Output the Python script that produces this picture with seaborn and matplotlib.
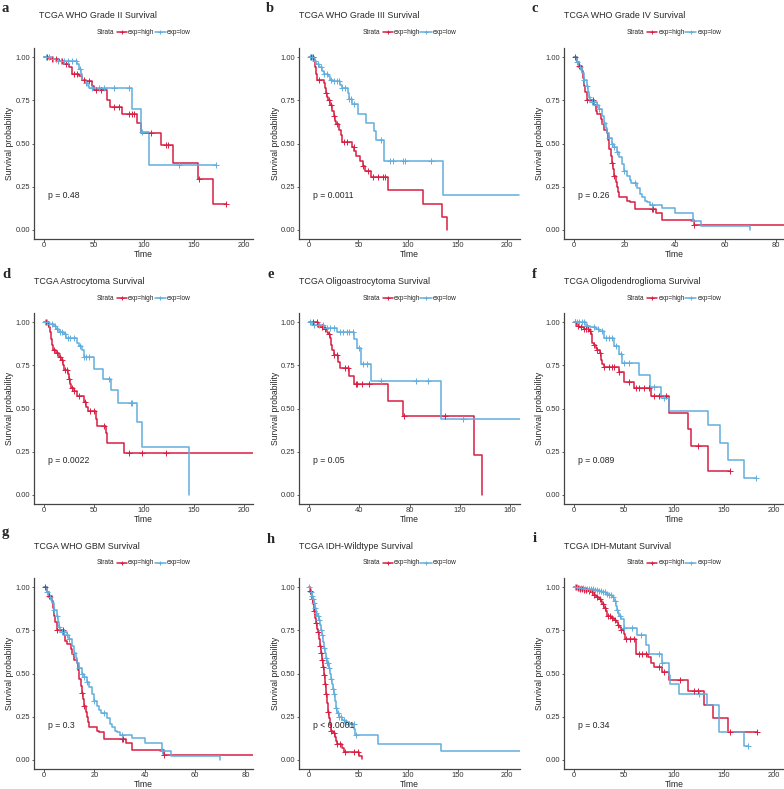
import numpy as np
import pandas as pd
import matplotlib
matplotlib.use("Agg")
import matplotlib.pyplot as plt
from matplotlib.lines import Line2D
import seaborn as sns

sns.set_theme(style="ticks")
plt.rcParams["font.family"] = ["Liberation Sans", "DejaVu Sans"]

RED = "#D81E43"
BLUE = "#62AEDD"

# ---------------- data ----------------
titles = ["TCGA WHO Grade II Survival", "TCGA WHO Grade III Survival", "TCGA WHO Grade IV Survival",
          "TCGA Astrocytoma Survival", "TCGA Oligoastrocytoma Survival", "TCGA Oligodendroglioma Survival",
          "TCGA WHO GBM Survival", "TCGA IDH-Wildtype Survival", "TCGA IDH-Mutant Survival"]
letters = ["a", "b", "c", "d", "e", "f", "g", "h", "i"]
pvals = ["p = 0.48", "p = 0.0011", "p = 0.26", "p = 0.0022", "p = 0.05", "p = 0.089",
         "p = 0.3", "p < 0.0001", "p = 0.34"]
legend_labels = ["exp=high", "exp=low"]

# a: Grade II
a_high_t = [0, 5, 15, 20, 25, 28, 35, 38, 42, 48, 50, 63, 66, 78, 93, 97, 117, 129, 154, 169, 182]
a_high_s = [1.0, 0.99, 0.98, 0.96, 0.94, 0.90, 0.89, 0.87, 0.86, 0.83, 0.81, 0.75, 0.71, 0.67, 0.62, 0.56, 0.49, 0.39, 0.295, 0.148, 0.148]
a_low_t = [0, 8, 12, 33, 35, 37, 38, 41, 44, 45, 88, 97, 105, 172]
a_low_s = [1.0, 0.99, 0.98, 0.96, 0.93, 0.90, 0.87, 0.85, 0.83, 0.82, 0.70, 0.565, 0.375, 0.375]
a_high_c = [3, 8, 12, 18, 22, 30, 33, 40, 45, 52, 57, 70, 75, 85, 88, 90, 107, 122, 124, 155, 182]
a_low_c = [2, 5, 9, 14, 17, 20, 24, 28, 32, 36, 42, 48, 55, 60, 70, 85, 98, 135, 172]

# b: Grade III
b_high_t = [0, 5, 6, 7, 8, 15, 16, 17, 18, 19, 21, 23, 25, 26, 27, 30, 32, 33, 43, 46, 48, 52, 55, 57, 63, 80, 115, 134, 139]
b_high_s = [1.0, 0.98, 0.94, 0.90, 0.87, 0.85, 0.82, 0.79, 0.77, 0.75, 0.72, 0.69, 0.66, 0.63, 0.61, 0.58, 0.55, 0.51, 0.48, 0.455, 0.43, 0.40, 0.37, 0.34, 0.305, 0.23, 0.15, 0.075, 0.0]
b_low_t = [0, 5, 7, 10, 13, 15, 19, 21, 24, 31, 33, 39, 40, 43, 50, 58, 66, 68, 76, 135, 212]
b_low_s = [1.0, 0.98, 0.96, 0.94, 0.92, 0.90, 0.89, 0.87, 0.86, 0.84, 0.82, 0.79, 0.76, 0.73, 0.67, 0.62, 0.57, 0.52, 0.40, 0.20, 0.20]
b_high_c = [2, 4, 10, 17, 20, 22, 25, 28, 35, 38, 45, 55, 60, 65, 70, 75, 77]
b_low_c = [1, 3, 6, 9, 12, 15, 18, 22, 25, 28, 30, 33, 36, 40, 42, 45, 73, 82, 85, 95, 97, 123]

# c: Grade IV
c_high_t = [0, 1, 2, 3, 3.5, 4, 4.5, 5, 8, 8.5, 9, 10.5, 11, 12, 13, 13.5, 14, 14.5, 15, 15.5, 16, 16.5, 17, 17.5, 18, 21, 22, 24, 32.5, 35, 47.5, 85]
c_high_s = [1.0, 0.97, 0.95, 0.92, 0.88, 0.83, 0.80, 0.75, 0.72, 0.69, 0.67, 0.64, 0.61, 0.58, 0.56, 0.52, 0.47, 0.43, 0.39, 0.35, 0.31, 0.28, 0.25, 0.22, 0.19, 0.17, 0.16, 0.12, 0.10, 0.06, 0.03, 0.03]
c_low_t = [0, 1, 2, 3, 4, 5, 5.5, 6, 6.5, 9, 10, 11, 12, 12.5, 13, 14, 15, 16, 17, 18, 19, 20, 21, 22, 22.5, 25, 26, 27, 28, 29, 30, 35, 40, 47, 50.5, 70]
c_low_s = [1.0, 0.97, 0.94, 0.91, 0.87, 0.83, 0.80, 0.77, 0.74, 0.72, 0.70, 0.66, 0.62, 0.59, 0.56, 0.53, 0.50, 0.48, 0.45, 0.42, 0.38, 0.34, 0.31, 0.29, 0.27, 0.24, 0.21, 0.19, 0.17, 0.16, 0.145, 0.125, 0.10, 0.05, 0.025, 0.0]
c_high_c = [0.5, 2, 5, 7.5, 15, 16, 31, 31.5, 47.5]
c_low_c = [1, 2.5, 4, 5, 6, 7, 8, 9, 10, 12, 14, 15, 16, 17, 20, 24, 31, 47]

# d: Astrocytoma
d_high_t = [0, 3, 5, 6, 7, 8, 9, 12, 15, 17, 19, 20, 24, 25, 26, 27, 30, 33, 40, 42, 44, 52, 53, 62, 63, 80, 212]
d_high_s = [1.0, 0.99, 0.97, 0.94, 0.90, 0.87, 0.84, 0.82, 0.80, 0.78, 0.75, 0.72, 0.70, 0.67, 0.64, 0.62, 0.60, 0.575, 0.54, 0.51, 0.485, 0.44, 0.40, 0.36, 0.30, 0.24, 0.24]
d_low_t = [0, 5, 10, 12, 15, 20, 22, 33, 35, 38, 40, 50, 59, 66.5, 73.5, 93, 98, 145]
d_low_s = [1.0, 0.99, 0.98, 0.96, 0.94, 0.93, 0.91, 0.88, 0.86, 0.84, 0.80, 0.73, 0.67, 0.605, 0.53, 0.42, 0.28, 0.0]
d_high_c = [2, 4, 10, 13, 16, 18, 21, 23, 25, 28, 30, 35, 41, 46, 50, 60, 85, 98, 122]
d_low_c = [1, 3, 5, 8, 11, 13, 16, 18, 21, 24, 26, 30, 36, 40, 42, 45, 65, 87, 88]

# e: Oligoastrocytoma
e_high_t = [0, 7, 12, 14, 15, 17, 17.5, 18, 20, 23, 25, 32, 36, 63, 75, 131, 138]
e_high_s = [1.0, 0.97, 0.96, 0.94, 0.93, 0.91, 0.87, 0.84, 0.81, 0.77, 0.735, 0.69, 0.64, 0.545, 0.455, 0.23, 0.0]
e_low_t = [0, 2, 12, 22, 36, 38, 41, 49, 105, 170]
e_low_s = [1.0, 0.985, 0.965, 0.94, 0.90, 0.85, 0.755, 0.66, 0.44, 0.44]
e_high_c = [3, 6, 10, 13, 16, 20, 22, 29, 31, 37, 38, 42, 48, 76, 108]
e_low_c = [1, 4, 8, 11, 14, 17, 20, 25, 27, 30, 32, 35, 40, 43, 46, 57, 85, 95, 123]

# f: Oligodendroglioma
f_high_t = [0, 2, 3, 5, 10, 15, 17, 18, 20, 22, 23, 26, 27, 28, 30, 45, 50, 60, 77, 95, 114, 117, 133.5, 156]
f_high_s = [1.0, 0.99, 0.98, 0.97, 0.96, 0.95, 0.93, 0.88, 0.87, 0.85, 0.84, 0.82, 0.78, 0.76, 0.74, 0.71, 0.655, 0.62, 0.57, 0.475, 0.38, 0.285, 0.14, 0.14]
f_low_t = [0, 12, 16, 22, 25, 30, 40, 45, 48, 65, 76, 87, 95, 134, 146, 154, 170, 182]
f_low_s = [1.0, 0.98, 0.97, 0.96, 0.95, 0.91, 0.86, 0.815, 0.765, 0.695, 0.625, 0.56, 0.485, 0.405, 0.30, 0.20, 0.10, 0.10]
f_high_c = [1, 4, 7, 10, 12, 14, 16, 20, 23, 26, 30, 35, 38, 40, 45, 55, 62, 65, 70, 75, 80, 85, 92, 124, 156]
f_low_c = [1, 3, 5, 8, 10, 13, 20, 24, 28, 32, 35, 38, 42, 47, 50, 55, 80, 90, 182]

# g: GBM
g_high_t = [0, 1, 2, 3, 3.5, 4, 4.5, 5, 8, 8.5, 9, 10.5, 11, 12, 13, 13.5, 14, 14.5, 15, 15.5, 16, 16.5, 17, 17.5, 18, 21, 22, 24, 32.5, 35, 47.5, 85]
g_high_s = [1.0, 0.97, 0.95, 0.92, 0.88, 0.83, 0.80, 0.75, 0.72, 0.69, 0.67, 0.64, 0.61, 0.58, 0.56, 0.52, 0.47, 0.43, 0.39, 0.35, 0.31, 0.28, 0.25, 0.22, 0.19, 0.17, 0.16, 0.12, 0.10, 0.06, 0.03, 0.03]
g_low_t = [0, 1, 2, 3, 4, 5, 5.5, 6, 6.5, 9, 10, 11, 12, 12.5, 13, 14, 15, 16, 17, 18, 19, 20, 21, 22, 22.5, 25, 26, 27, 28, 29, 30, 35, 40, 47, 50.5, 70]
g_low_s = [1.0, 0.97, 0.94, 0.91, 0.87, 0.83, 0.80, 0.77, 0.74, 0.72, 0.70, 0.66, 0.62, 0.59, 0.56, 0.53, 0.50, 0.48, 0.45, 0.42, 0.38, 0.34, 0.31, 0.29, 0.27, 0.24, 0.21, 0.19, 0.17, 0.16, 0.145, 0.125, 0.10, 0.05, 0.025, 0.0]
g_high_c = [0.5, 2, 5, 7.5, 15, 16, 31, 31.5, 47.5]
g_low_c = [1, 2.5, 4, 5, 6, 7, 8, 9, 10, 12, 14, 15, 16, 17, 20, 24, 31, 47]

# h: IDH-wildtype
h_high_t = [0, 1, 2, 3, 4, 5, 6, 7, 8, 9, 10, 11, 12, 13, 14, 15, 16, 17, 18, 19, 20, 21, 22, 24, 26, 27, 28, 33, 35, 51, 54]
h_high_s = [1.0, 0.98, 0.96, 0.93, 0.90, 0.86, 0.82, 0.79, 0.76, 0.74, 0.70, 0.66, 0.62, 0.58, 0.54, 0.49, 0.44, 0.38, 0.33, 0.28, 0.24, 0.20, 0.17, 0.155, 0.13, 0.11, 0.09, 0.07, 0.045, 0.02, 0.005]
h_low_t = [0, 1, 2, 3, 4, 5, 6, 7, 8, 10, 11, 12, 13, 14, 15, 16, 17, 18, 20, 21, 22, 23, 24, 25, 26, 27, 28, 30, 33, 36, 40, 46, 47, 70, 133, 214]
h_low_s = [1.0, 0.99, 0.97, 0.95, 0.93, 0.91, 0.88, 0.85, 0.83, 0.81, 0.78, 0.75, 0.72, 0.68, 0.65, 0.62, 0.59, 0.56, 0.53, 0.50, 0.47, 0.44, 0.41, 0.38, 0.34, 0.30, 0.27, 0.25, 0.23, 0.22, 0.21, 0.18, 0.145, 0.095, 0.05, 0.05]
h_high_c = [1, 3, 5, 7, 9, 11, 12, 13, 14, 15, 16, 17, 19, 22, 25, 28, 31, 36, 45, 50]
h_low_c = [0.5, 2, 3, 4, 5, 6, 7, 9, 10, 12, 13, 15, 17, 18, 19, 20, 22, 24, 25, 27, 29, 30, 32, 35, 37, 40, 45, 48]

# i: IDH-mutant
i_high_t = [0, 3, 6, 10, 15, 18, 20, 22, 25, 27, 28, 30, 32, 33, 37, 40, 42, 44, 45, 47, 50, 51, 62, 74, 77, 80, 88, 95, 114, 130, 139, 154, 183]
i_high_s = [1.0, 0.995, 0.99, 0.985, 0.98, 0.97, 0.955, 0.94, 0.93, 0.92, 0.90, 0.88, 0.86, 0.835, 0.82, 0.81, 0.80, 0.78, 0.77, 0.75, 0.73, 0.70, 0.615, 0.595, 0.56, 0.535, 0.51, 0.46, 0.40, 0.32, 0.24, 0.16, 0.16]
i_low_t = [0, 5, 10, 20, 25, 28, 32, 35, 38, 40, 42, 43, 44, 45, 47, 50, 63, 72, 75, 88, 95, 96, 105, 133, 145, 170, 174]
i_low_s = [1.0, 0.995, 0.99, 0.985, 0.98, 0.97, 0.96, 0.955, 0.94, 0.92, 0.89, 0.87, 0.85, 0.83, 0.815, 0.765, 0.725, 0.665, 0.61, 0.56, 0.49, 0.44, 0.38, 0.32, 0.16, 0.08, 0.08]
i_high_c = [2, 4, 6, 8, 10, 12, 15, 18, 20, 23, 26, 29, 31, 34, 36, 38, 41, 44, 47, 52, 56, 60, 65, 68, 72, 85, 90, 106, 120, 124, 156, 183]
i_low_c = [1, 3, 5, 7, 9, 11, 13, 15, 17, 19, 21, 23, 25, 27, 29, 31, 33, 35, 37, 39, 41, 43, 46, 50, 58, 67, 85, 88, 125, 174]

xlims = [(-10, 209), (-10, 213), (-4, 83.3), (-10, 209), (-8, 168), (-10, 210),
         (-4, 83), (-10, 213), (-10, 210)]
xticks = [[0, 50, 100, 150, 200], [0, 50, 100, 150, 200], [0, 20, 40, 60, 80],
          [0, 50, 100, 150, 200], [0, 40, 80, 120, 160], [0, 50, 100, 150, 200],
          [0, 20, 40, 60, 80], [0, 50, 100, 150, 200], [0, 50, 100, 150, 200]]
yticks = [0.00, 0.25, 0.50, 0.75, 1.00]

curves = [
    (a_high_t, a_high_s, a_high_c, a_low_t, a_low_s, a_low_c),
    (b_high_t, b_high_s, b_high_c, b_low_t, b_low_s, b_low_c),
    (c_high_t, c_high_s, c_high_c, c_low_t, c_low_s, c_low_c),
    (d_high_t, d_high_s, d_high_c, d_low_t, d_low_s, d_low_c),
    (e_high_t, e_high_s, e_high_c, e_low_t, e_low_s, e_low_c),
    (f_high_t, f_high_s, f_high_c, f_low_t, f_low_s, f_low_c),
    (g_high_t, g_high_s, g_high_c, g_low_t, g_low_s, g_low_c),
    (h_high_t, h_high_s, h_high_c, h_low_t, h_low_s, h_low_c),
    (i_high_t, i_high_s, i_high_c, i_low_t, i_low_s, i_low_c),
]

# ---------------- layout (pixels) ----------------
W, H = 784, 789
fig = plt.figure(figsize=(W / 100, H / 100), dpi=100)
col_px = [(34, 253), (299, 520), (564, 784)]
row_px = [(48.4, 238.6), (313.4, 503.6), (578.4, 768.6)]
title_base = [18, 284, 549]
legend_y = [32, 298, 563]
letter_pos = [(2, 12), (266, 12), (532, 12), (2, 278), (267, 278), (532, 278),
              (2, 536), (267, 543), (533, 542)]
title_x = [39, 299, 564, 34, 299, 564, 34, 299, 564]

def fx(px):
    return px / W

def fy(py):
    return 1 - py / H

def step_value(t, s, x):
    t = np.asarray(t); s = np.asarray(s)
    idx = np.searchsorted(t, x, side="right") - 1
    return s[np.clip(idx, 0, len(s) - 1)]

LW = 1.1
for k in range(9):
    r, c = divmod(k, 3)
    x0, x1 = col_px[c]
    y0, y1 = row_px[r]
    ax = fig.add_axes([fx(x0), fy(y1), (x1 - x0) / W, (y1 - y0) / H])
    ht, hs, hc, lt, ls, lc = curves[k]
    for t, s, cens, col in [(ht, hs, hc, RED), (lt, ls, lc, BLUE)]:
        df = pd.DataFrame({"Time": t, "surv": s})
        sns.lineplot(data=df, x="Time", y="surv", drawstyle="steps-post", estimator=None,
                     sort=False, color=col, lw=LW, ax=ax, legend=False)
        cdf = pd.DataFrame({"Time": cens, "surv": step_value(t, s, np.asarray(cens, float))})
        sns.scatterplot(data=cdf, x="Time", y="surv", marker="+", s=18, color=col,
                        linewidth=0.7, ax=ax, legend=False, zorder=3)
    ax.set_xlim(*xlims[k])
    ax.set_ylim(-0.05, 1.05)
    ax.set_xticks(xticks[k])
    ax.set_yticks(yticks)
    ax.set_yticklabels([f"{v:.2f}" for v in yticks])
    for sp in ["top", "right"]:
        ax.spines[sp].set_visible(False)
    for sp in ["left", "bottom"]:
        ax.spines[sp].set_linewidth(0.9)
        ax.spines[sp].set_color("#444444")
    ax.tick_params(axis="both", length=1.8, width=0.6, color="#444444", pad=0.8,
                   labelsize=5.4, labelcolor="#333333")
    ax.set_xlabel("Time", fontsize=6.2, va="center")
    ax.set_ylabel("Survival probability", fontsize=6.2, va="center")
    ax.xaxis.set_label_coords(0.5, -15.5 / (y1 - y0))
    ax.yaxis.set_label_coords(-24 / (x1 - x0), 0.5)
    ax.annotate(pvals[k], xy=(0, 0.2), xytext=(3, 0), textcoords="offset points",
                va="center", ha="left", fontsize=6.2)
    ax.patch.set_alpha(0)

    # title & panel letter
    fig.text(fx(title_x[k]), fy(title_base[r]), titles[k], fontsize=6.4,
             ha="left", va="baseline")
    lx, ly = letter_pos[k]
    fig.text(fx(lx), fy(ly), letters[k], fontsize=10.5, fontweight="bold",
             family=["Liberation Serif", "DejaVu Serif"], ha="left", va="baseline")

    # legend row (Strata  -+- exp=high  -+- exp=low)
    cx = (x0 + x1) / 2
    ly_ = legend_y[r]
    fs = 4.7
    fig.text(fx(cx - 47), fy(ly_), "Strata", fontsize=fs, ha="left", va="center")
    for (a_, b_, col, lab) in [(-27, -17, RED, legend_labels[0]), (11, 22, BLUE, legend_labels[1])]:
        fig.add_artist(Line2D([fx(cx + a_), fx(cx + b_)], [fy(ly_), fy(ly_)], color=col, lw=LW,
                              transform=fig.transFigure))
        fig.add_artist(Line2D([fx(cx + (a_ + b_) / 2)], [fy(ly_)], color=col, marker="+",
                              markersize=3.2, mew=0.7, transform=fig.transFigure))
        fig.text(fx(cx + b_ + 1.5), fy(ly_), lab, fontsize=fs, ha="left", va="center")

fig.savefig("out.png", dpi=100)
